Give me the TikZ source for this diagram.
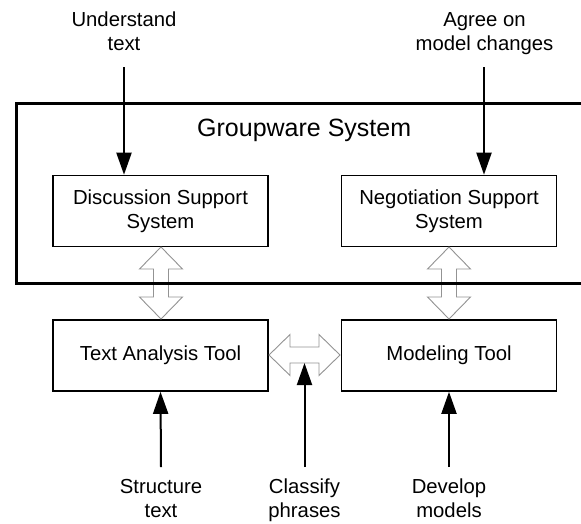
\documentclass[tikz,border=0pt]{standalone}
\usepackage{fontspec}
\setmainfont{Liberation Sans}
\usetikzlibrary{arrows.meta}
\begin{document}
\begin{tikzpicture}[x=1pt,y=-1pt,
  box/.style={draw,line width=1.6pt,minimum width=215pt,minimum height=71pt,
    inner sep=0pt,align=center,font=\fontsize{20.3}{24}\selectfont},
  lbl/.style={align=center,inner sep=0pt,anchor=base,font=\fontsize{20.3}{24}\selectfont},
  flow/.style={line width=2pt,-{Triangle[length=22pt,width=15pt]}},
  hollow/.style={draw=gray!85,fill=white,line width=0.9pt,line join=miter}]
\useasboundingbox (0,0) rectangle (581,523);

% tool boxes
\node[box] (dss) at (160.5,211) {Discussion Support\\System};
\node[box] (nss) at (449,211) {Negotiation Support\\System};
\node[box] (tat) at (160.5,355.5) {Text Analysis Tool};
\node[box] (mt)  at (449,355.5) {Modeling Tool};

% hollow double arrows between the boxes
\foreach \cx in {161,449}{
  \draw[hollow] (\cx,247) -- (\cx+21.5,269) -- (\cx+7.5,269) -- (\cx+7.5,297)
    -- (\cx+21.5,297) -- (\cx,319) -- (\cx-21.5,297) -- (\cx-7.5,297)
    -- (\cx-7.5,269) -- (\cx-21.5,269) -- cycle;
}
\draw[hollow] (269,355) -- (290,334.5) -- (290,347) -- (319,347) -- (319,334.5)
  -- (340,355) -- (319,375.5) -- (319,363) -- (290,363) -- (290,375.5) -- cycle;
\coordinate (hshaft) at (304.5,363);

% groupware frame (runs past the right edge)
\draw[line width=3pt] (600,103) -- (16,103) -- (16,283) -- (600,283);
\node[lbl,font=\fontsize{25}{30}\selectfont,anchor=base west] (gw) at (197,136) {Groupware System};

% activity labels (anchored at the baseline of their last line)
\node[lbl] (ut) at (124,50) {Understand\\text};
\node[lbl] (ag) at (484.5,50) {Agree on\\model changes};
\node[lbl] (st) at (161,517) {Structure\\text};
\node[lbl] (cp) at (304.5,517) {Classify\\phrases};
\node[lbl] (dm) at (449,517) {Develop\\models};

% activity arrows
\coordinate (ut1) at (124,67);
\coordinate (ag1) at (484,67);
\coordinate (st1) at (161,467);
\coordinate (cp1) at (304.5,467);
\coordinate (dm1) at (449,467);
\draw[flow] (ut1) -- (ut1 |- dss.north);
\draw[flow] (ag1) -- (ag1 |- nss.north);
\draw[flow] (st1) -- (tat.south);
\draw[flow] (cp1) -- (hshaft);
\draw[flow] (dm1) -- (mt.south);
\end{tikzpicture}
\end{document}
